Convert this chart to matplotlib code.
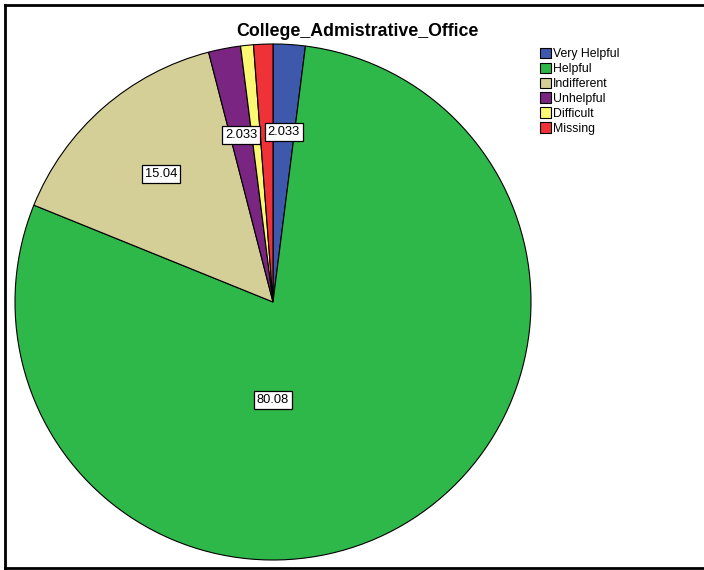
import matplotlib.pyplot as plt
import numpy as np
from matplotlib.patches import Rectangle
from matplotlib.lines import Line2D

plt.rcParams['font.family'] = ['Liberation Sans', 'DejaVu Sans']

# counts per response (percent labels are of the valid answers)
categories = ['Very Helpful', 'Helpful', 'Indifferent', 'Unhelpful', 'Difficult', 'Missing']
counts = [5, 197, 37, 5, 2, 3]
pct_labels = ['2.033', '80.08', '15.04', '2.033', '', '']
colors = ['#3E58AC', '#2EB84A', '#D4CE97', '#7A2581', '#FBF873', '#EF3238']

W, H = 704, 570
fig = plt.figure(figsize=(W / 100, H / 100), dpi=100)

# pie centre / radius in pixels
cx, cy, r = 273, 302, 258
ax = fig.add_axes([(cx - r) / W, (H - cy - r) / H, 2 * r / W, 2 * r / H])
wedges, _ = ax.pie(counts, colors=colors, startangle=90, counterclock=False,
                   radius=1, wedgeprops=dict(edgecolor='black', linewidth=0.8))
ax.set_xlim(-1, 1)
ax.set_ylim(-1, 1)
ax.set_aspect('auto')
ax.axis('off')

# labels at ~2/3 radius on the wedge mid angle, the big slice is put lower
for w, lab in zip(wedges, pct_labels):
    if not lab:
        continue
    ang = np.deg2rad((w.theta1 + w.theta2) / 2)
    if lab == '80.08':
        x, y = 0.0, -0.38
    else:
        x, y = 0.66 * np.cos(ang), 0.66 * np.sin(ang)
    ax.text(x, y, lab, ha='center', va='center', fontsize=9.3,
            bbox=dict(boxstyle='square,pad=0.22', fc='white', ec='black', lw=0.9))

fig.text(357 / W, 1 - 31 / H, 'College_Admistrative_Office', ha='center', va='center',
         fontsize=12.8, fontweight='bold')

handles = [Rectangle((0, 0), 1, 1, fc=c, ec='black', lw=0.8) for c in colors]
fig.legend(handles, categories, loc='upper left', bbox_to_anchor=(531 / W, 1 - 39 / H),
           frameon=False, fontsize=8.8, handlelength=0.9, handleheight=0.9,
           handletextpad=0.2, labelspacing=0.22, borderpad=0.2)

# outer frame: left, top, bottom
fr = dict(transform=fig.transFigure, color='black', lw=2)
fig.add_artist(Line2D([5 / W, 5 / W], [1 - 4.5 / H, 1 - 568 / H], **fr))
fig.add_artist(Line2D([5 / W, 1], [1 - 4.5 / H, 1 - 4.5 / H], **fr))
fig.add_artist(Line2D([5 / W, 1], [1 - 568 / H, 1 - 568 / H], **fr))

fig.savefig('out.png', dpi=100)
